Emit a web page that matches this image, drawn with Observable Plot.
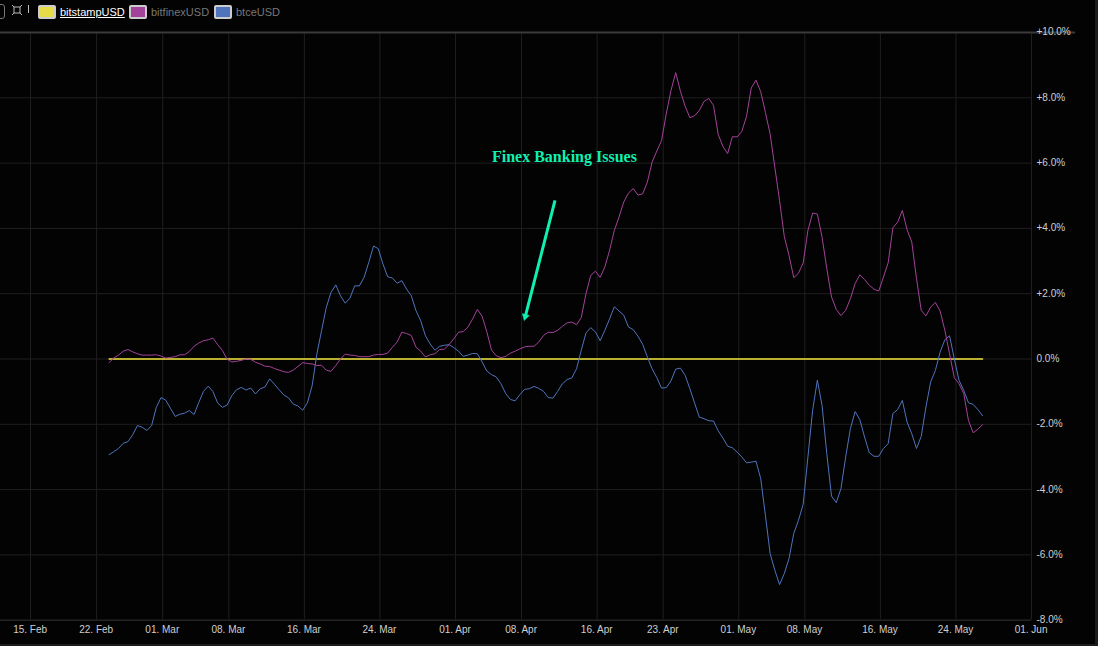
<!DOCTYPE html>
<html>
<head>
<meta charset="utf-8">
<script src="https://cdn.jsdelivr.net/npm/d3@7"></script>
<script src="https://cdn.jsdelivr.net/npm/@observablehq/plot@0.6"></script>
<style>
html,body{margin:0;padding:0;background:#1c1c1c;width:1098px;height:646px;overflow:hidden}
#wrap{position:absolute;left:0;top:0;width:1095px;height:644px;background:#030303;overflow:hidden;font-family:"Liberation Sans",Arial,sans-serif}
#legend{position:relative;height:24px;width:1095px}
#legend>*{position:absolute}
.sw{top:5px;width:14px;height:10px;border:2px solid #ccc;border-radius:2px}
.lb{top:5px;font-size:11px;line-height:14px;color:#777}
#chart{position:absolute;left:0;top:24px}
#chart svg{display:block}
</style>
</head>
<body>
<div id="wrap">
<div id="legend">
  <div style="left:-8px;top:4px;width:11px;height:13px;border:1px solid #777;border-radius:3px"></div>
  <svg style="left:11px;top:4px" width="12" height="12" viewBox="0 0 12 12"><path d="M3 3h6v6H3zM1 1l2 2M11 1l-2 2M1 11l2-2M11 11l-2-2" fill="none" stroke="#bbb" stroke-width="1"/></svg>
  <div style="left:28px;top:5px;width:1px;height:8px;background:#bbb"></div>
  <div class="sw" style="left:38px;background:#e5dc48"></div>
  <div class="lb" style="left:60px;color:#fff;text-decoration:underline">bitstampUSD</div>
  <div class="sw" style="left:129px;background:#a3429a"></div>
  <div class="lb" style="left:151px">bitfinexUSD</div>
  <div class="sw" style="left:214px;background:#4f74bd"></div>
  <div class="lb" style="left:236px">btceUSD</div>
</div>
<div id="chart"></div>
</div>
<script>
const seriesStart = "2017-02-23T07:45:00Z";
const stepHours = 12;

const btceUSD = [
-2.93,-2.84,-2.74,-2.58,-2.53,-2.32,-2.04,-2.09,-2.19,-2.04,
-1.48,-1.18,-1.26,-1.51,-1.76,-1.69,-1.66,-1.58,-1.70,-1.33,
-0.99,-0.83,-1.00,-1.35,-1.48,-1.41,-1.12,-0.94,-0.87,-0.95,
-0.89,-1.07,-0.91,-0.86,-0.61,-0.77,-0.94,-1.10,-1.19,-1.38,
-1.44,-1.57,-1.34,-0.82,0.15,0.87,1.58,2.04,2.27,1.94,
1.71,1.86,2.24,2.24,2.50,2.96,3.46,3.38,2.91,2.52,
2.48,2.32,2.40,2.14,1.94,1.48,1.17,0.71,0.46,0.27,
0.39,0.42,0.44,0.35,0.24,0.08,0.12,0.17,0.16,-0.09,
-0.37,-0.48,-0.55,-0.76,-1.06,-1.24,-1.28,-1.09,-0.93,-0.91,
-0.84,-0.90,-0.99,-1.18,-1.20,-0.99,-0.76,-0.63,-0.58,-0.30,
0.27,0.80,0.96,0.83,0.56,0.88,1.23,1.60,1.47,1.34,
0.98,0.90,0.70,0.45,0.06,-0.30,-0.57,-0.89,-0.88,-0.67,
-0.31,-0.28,-0.50,-0.91,-1.35,-1.78,-1.83,-1.89,-1.90,-2.20,
-2.42,-2.67,-2.72,-2.85,-3.00,-3.18,-3.16,-3.13,-3.66,-4.79,
-5.96,-6.47,-6.91,-6.57,-6.11,-5.35,-4.94,-4.45,-3.00,-1.57,
-0.65,-1.42,-2.90,-4.20,-4.40,-3.97,-3.00,-2.13,-1.61,-1.86,
-2.39,-2.87,-2.98,-2.98,-2.74,-2.59,-1.67,-1.55,-1.27,-1.93,
-2.29,-2.74,-2.37,-1.47,-0.70,-0.35,0.21,0.59,0.71,0.01,
-0.65,-0.96,-1.34,-1.39,-1.55,-1.74
];

const bitfinexUSD = [
-0.11,0.03,0.12,0.24,0.29,0.22,0.16,0.12,0.12,0.12,
0.13,0.09,0.03,0.05,0.07,0.13,0.13,0.23,0.39,0.49,
0.56,0.59,0.64,0.44,0.26,-0.01,-0.09,-0.07,-0.04,0.00,
-0.01,-0.10,-0.15,-0.22,-0.23,-0.29,-0.34,-0.39,-0.41,-0.34,
-0.23,-0.11,-0.14,-0.15,-0.20,-0.19,-0.34,-0.38,-0.20,0.00,
0.15,0.12,0.11,0.07,0.07,0.07,0.12,0.14,0.14,0.18,
0.36,0.52,0.82,0.78,0.72,0.36,0.24,0.06,0.13,0.16,
0.29,0.30,0.44,0.62,0.82,0.84,0.98,1.23,1.52,1.31,
0.83,0.27,0.10,0.04,0.08,0.18,0.24,0.31,0.37,0.39,
0.39,0.52,0.72,0.82,0.81,0.88,1.00,1.11,1.13,1.05,
1.27,2.00,2.56,2.69,2.50,2.82,3.33,3.94,4.35,4.81,
5.08,5.22,5.02,5.06,5.42,6.03,6.37,6.69,7.51,8.22,
8.77,8.20,7.74,7.39,7.45,7.61,7.89,7.98,7.77,6.88,
6.51,6.29,6.81,6.80,6.97,7.43,8.30,8.54,8.19,7.55,
6.89,5.87,4.85,3.75,3.17,2.49,2.63,2.94,3.94,4.47,
4.44,3.73,2.77,1.90,1.52,1.33,1.49,1.85,2.31,2.58,
2.43,2.26,2.14,2.08,2.51,2.95,4.02,4.19,4.55,3.96,
3.58,2.46,1.49,1.32,1.59,1.73,1.47,0.88,0.16,-0.57,
-0.76,-1.06,-1.88,-2.26,-2.15,-2.01
];

const bitstampUSD = btceUSD.map(() => 0);

const tickDates = ["2017-02-15","2017-02-22","2017-03-01","2017-03-08","2017-03-16","2017-03-24","2017-04-01","2017-04-08","2017-04-16","2017-04-23","2017-05-01","2017-05-08","2017-05-16","2017-05-24","2017-06-01"];
const yTicks = [10,8,6,4,2,0,-2,-4,-6,-8];

const noteText = ["Finex Banking Issues"];
const noteAt = ["2017-04-12T13:00:00Z"];
const noteValue = [6.18];
const arrowFrom = ["2017-04-11T13:00:00Z", 4.86];
const arrowHead = ["2017-04-08T09:30:00Z", 1.30];

const frameLeft = "2017-02-11T19:40:00Z";
const topLineEnd = "2017-06-05T16:00:00Z";
const accent = "#10f0b0";

const dt = s => new Date(s);
const t0 = dt(seriesStart);
const table = (name, vals) => vals.map((v, i) => ({name, v, d: d3.utcHour.offset(t0, i * stepHours)}));
const yFmt = v => v === 0 ? "0.0%" : (v > 0 ? "+" : "") + v.toFixed(1) + "%";
const xFmt = d3.utcFormat("%d. %b");

const plot = Plot.plot({
  width: 1095, height: 620,
  marginLeft: 0, marginRight: 64, marginTop: 8, marginBottom: 24.3,
  style: {background: "transparent", fontFamily: '"Liberation Sans",Arial,sans-serif', fontSize: "10px", overflow: "visible"},
  x: {type: "utc", domain: [dt(tickDates[0]), dt(tickDates[tickDates.length - 1])], range: [30, 1031]},
  y: {domain: [-8, 10]},
  marks: [
    Plot.ruleY(yTicks, {stroke: "#1f1f1f", strokeWidth: 1}),
    Plot.ruleX(tickDates.map(dt), {stroke: "#1f1f1f", strokeWidth: 1}),
    Plot.ruleY([10], {x1: dt(frameLeft), x2: dt(topLineEnd), stroke: "#3a3a3a", strokeWidth: 2}),
    Plot.ruleY([-8], {stroke: "#2a2a2a", strokeWidth: 1}),
    Plot.axisX({ticks: tickDates.map(dt), tickFormat: xFmt, tickSize: 0, tickPadding: 6, anchor: "bottom", color: "#cfcfcf", fontSize: 10, label: null, dx: -0.4}),
    Plot.axisY({ticks: yTicks, tickFormat: yFmt, tickSize: 0, tickPadding: 5, anchor: "right", color: "#cfcfcf", fontSize: 10, label: null, dy: -0.3}),
    Plot.lineY(table("bitstampUSD", bitstampUSD), {x: "d", y: "v", stroke: "#f2e43c", strokeWidth: 1.3}),
    Plot.lineY(table("btceUSD", btceUSD), {x: "d", y: "v", stroke: "#4f74bd", strokeWidth: 1}),
    Plot.lineY(table("bitfinexUSD", bitfinexUSD), {x: "d", y: "v", stroke: "#a3429a", strokeWidth: 1}),
    Plot.link([0], {x1: () => dt(arrowFrom[0]), y1: () => arrowFrom[1], x2: () => dt(arrowHead[0]), y2: () => arrowHead[1], stroke: accent, strokeWidth: 3}),
    Plot.dot([0], {x: () => dt(arrowHead[0]), y: () => arrowHead[1], symbol: "triangle2", r: 3.4, fill: accent, stroke: accent, strokeWidth: 0.5, rotate: 194.7}),
    Plot.text(noteText, {x: noteAt.map(dt), y: noteValue, text: d => d, fill: accent, fontFamily: '"Liberation Serif",serif', fontWeight: "bold", fontSize: 16})
  ]
});
document.getElementById("chart").appendChild(plot);
</script>
</body>
</html>
